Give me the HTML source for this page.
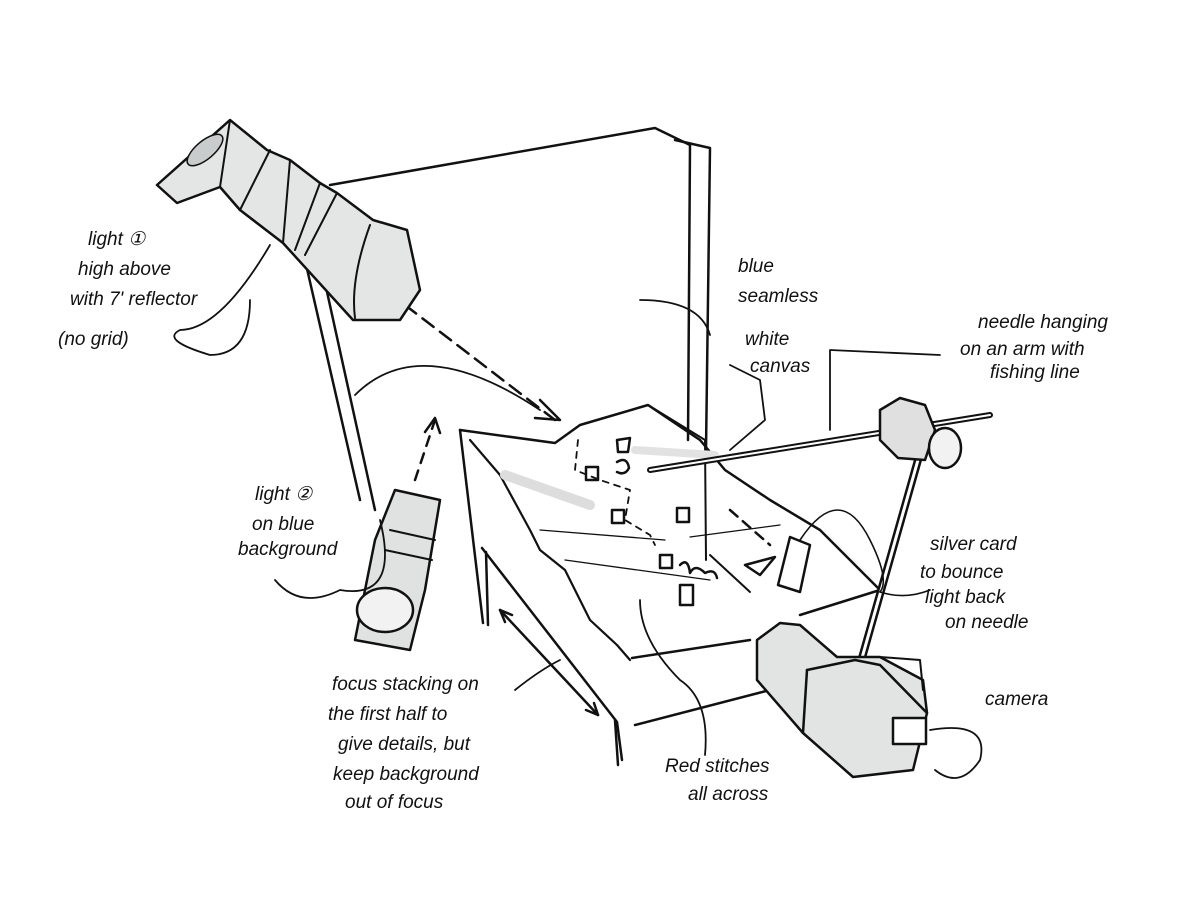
<!DOCTYPE html>
<html><head><meta charset="utf-8"><style>
html,body{margin:0;padding:0;background:#fff;}
svg{display:block}
text{font-family:"Liberation Sans",sans-serif;font-size:19px;fill:#111;font-style:italic;}
</style></head><body>
<svg width="1200" height="910" viewBox="0 0 1200 910" xmlns="http://www.w3.org/2000/svg">
<rect width="1200" height="910" fill="#fff"/>
<g fill="none" stroke="#111" stroke-width="2.5" stroke-linecap="round" stroke-linejoin="round">
<path d="M330,185 L655,128 L690,145"/>
<path d="M675,140 L710,148 L706,450"/>
<path d="M690,145 L688,440"/>
<path d="M305,260 L360,500"/>
<path d="M320,260 L375,510"/>
<path d="M460,430 L555,443 L580,425 L648,405 L700,440 L725,470 L770,500 L820,530 L880,590 L800,615" />
<path d="M470,440 L500,475 L530,530 L540,550 L565,570 L590,620 L617,645 L630,660" stroke-width="2.2"/>
<path d="M460,430 L483,623"/>
<path d="M482,548 L617,722 L622,760"/>
<path d="M486,552 L488,625"/>
<path d="M632,658 L750,640"/>
<path d="M635,725 L770,690"/>
<path d="M615,720 L618,765"/>
<path d="M540,530 L665,540 M565,560 L710,580" stroke-width="1.3"/>
<path d="M690,537 L780,525" stroke-width="1.3"/>
<path d="M648,405 L705,440 L706,560" stroke-width="2"/>
<path d="M505,475 L590,505" stroke="#ddd" stroke-width="10"/>
<path d="M635,450 L715,455" stroke="#e2e2e2" stroke-width="8"/>
<path d="M405,305 L555,420" stroke-dasharray="14,8"/>
<path d="M540,400 L560,420 L535,418"/>
<path d="M415,480 L435,420" stroke-dasharray="10,8"/>
<path d="M425,432 L435,418 L440,433"/>
<path d="M578,440 L575,470 L600,480 L630,490 L625,520 L650,535 L655,545" stroke-dasharray="6,6" stroke-width="1.8"/>
<path d="M730,510 L770,545" stroke-dasharray="10,7"/>
<path d="M745,565 L775,557 L760,575 Z"/>
<path d="M790,537 L810,545 L800,592 L778,585 Z"/>
<path d="M710,555 L750,592" stroke-width="2"/>
<path d="M650,470 L990,415" stroke-width="6"/>
<path d="M650,470 L990,415" stroke="#fff" stroke-width="2"/>
<path d="M918,460 L860,665" stroke-width="8"/>
<path d="M918,460 L860,665" stroke="#fff" stroke-width="3"/>
<path d="M880,410 L900,398 L925,405 L935,430 L925,460 L898,458 L880,440 Z" fill="#e0e0e0"/>
<ellipse cx="945" cy="448" rx="16" ry="20" fill="#f2f2f2"/>
<path d="M617,440 L630,438 L628,452 L618,452 Z"/><path d="M617,462 q10,-6 12,6 q-4,8 -12,4"/>
<rect x="586" y="467" width="12" height="13"/>
<rect x="612" y="510" width="12" height="13"/><rect x="677" y="508" width="12" height="14"/>
<rect x="660" y="555" width="12" height="13"/><rect x="680" y="585" width="13" height="20"/>
<path d="M680,565 q8,-8 10,8 q5,-10 15,0 q10,-5 12,5"/>
<path d="M500,610 L598,715"/><path d="M500,610 L512,615 M500,610 L505,622"/><path d="M598,715 L586,710 M598,715 L594,703"/>
<path d="M157,185 L230,120 L267,150 L290,160 L320,183 L337,193 L373,220 L407,230 L420,290 L400,320 L353,320 L283,243 L240,210 L220,187 L177,203 Z" fill="#e4e6e6"/>
<path d="M230,120 L220,187" stroke-width="2"/>
<path d="M270,150 L240,210 M290,160 L283,243 M320,183 L295,250 M337,193 L305,255" stroke-width="2"/>
<path d="M370,225 Q350,280 355,318" stroke-width="2"/>
<ellipse cx="205" cy="150" rx="22" ry="9" transform="rotate(-40 205 150)" fill="#c8cccc" stroke-width="1.5"/>
<path d="M395,490 L440,500 L425,590 L410,650 L355,640 L375,540 Z" fill="#e0e2e2"/>
<path d="M390,530 L435,540 M385,550 L432,560" stroke-width="2"/>
<ellipse cx="385" cy="610" rx="28" ry="22" fill="#f2f2f2"/>
<path d="M757,640 L780,623 L800,625 L837,657 L880,657 L923,680 L927,713 L913,770 L853,777 L803,733 L757,680 Z" fill="#e2e4e4"/>
<path d="M807,670 L855,660 L880,665 L927,713" />
<path d="M807,670 L803,733" />
<path d="M880,657 L920,660 L923,690" stroke-width="2"/>
<rect x="893" y="718" width="33" height="26" fill="#fff"/>
<path d="M270,245 Q220,330 180,330 Q160,340 210,355 Q250,355 250,300" stroke-width="1.8"/>
<path d="M355,395 Q420,330 540,410" stroke-width="1.8"/>
<path d="M640,300 Q700,300 710,335" stroke-width="1.8"/>
<path d="M730,365 L760,380 L765,420 L730,450" stroke-width="1.8"/>
<path d="M940,355 L830,350 L830,430" stroke-width="1.8"/>
<path d="M275,580 Q300,610 340,590 Q400,600 380,520" stroke-width="1.8"/>
<path d="M800,540 Q840,480 870,540 Q890,580 880,592" stroke-width="1.6"/>
<path d="M880,592 Q905,600 930,590" stroke-width="1.6"/>
<path d="M930,730 Q990,720 980,760 Q960,790 935,770" stroke-width="1.8"/>
<path d="M515,690 Q540,670 560,660" stroke-width="1.8"/>
<path d="M705,755 Q710,700 680,680 Q640,640 640,600" stroke-width="1.8"/>
</g>
<text x="88" y="245">light ①</text>
<text x="78" y="275">high above</text>
<text x="70" y="305">with 7' reflector</text>
<text x="58" y="345">(no grid)</text>
<text x="738" y="272">blue</text>
<text x="738" y="302">seamless</text>
<text x="745" y="345">white</text>
<text x="750" y="372">canvas</text>
<text x="978" y="328">needle hanging</text>
<text x="960" y="355">on an arm with</text>
<text x="990" y="378">fishing line</text>
<text x="255" y="500">light ②</text>
<text x="252" y="530">on blue</text>
<text x="238" y="555">background</text>
<text x="930" y="550">silver card</text>
<text x="920" y="578">to bounce</text>
<text x="925" y="603">light back</text>
<text x="945" y="628">on needle</text>
<text x="985" y="705">camera</text>
<text x="332" y="690">focus stacking on</text>
<text x="328" y="720">the first half to</text>
<text x="338" y="750">give details, but</text>
<text x="333" y="780">keep background</text>
<text x="345" y="808">out of focus</text>
<text x="665" y="772">Red stitches</text>
<text x="688" y="800">all across</text>
</svg>
</body></html>
